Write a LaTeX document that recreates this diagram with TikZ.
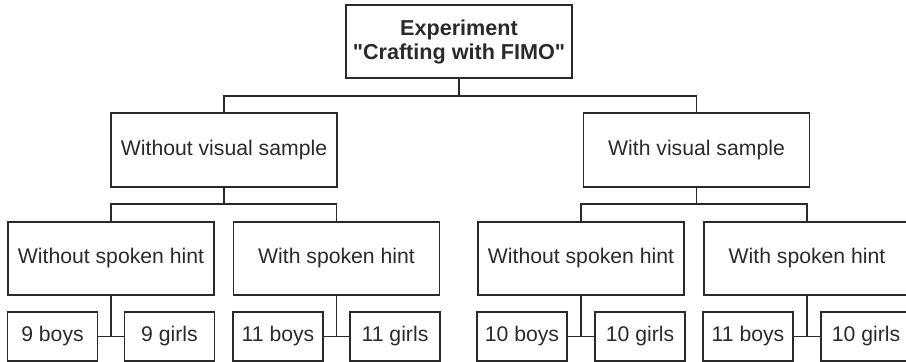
\documentclass[tikz,border=0pt]{standalone}
\usepackage{fontspec}
\setmainfont{Liberation Sans}
\definecolor{ink}{HTML}{2A2A2A}
\tikzset{
  box/.style={draw=ink, line width=0.8pt, text=ink, align=center,
    inner sep=0pt, font=\fontsize{10.6}{12}\selectfont},
  wire/.style={draw=ink, line width=0.8pt}
}

\begin{document}
\begin{tikzpicture}[x=0.5pt, y=-0.5pt]
  \clip (0, 0) rectangle (906, 362);
  % root and first split
  \node[box, minimum width=113pt, minimum height=36.5pt, font=\fontsize{10.8}{12}\selectfont\bfseries]
    (exp) at (459, 41.5) {Experiment\\\textquotedbl Crafting with FIMO\textquotedbl};
  \node[box, minimum width=113pt, minimum height=37pt] (novis) at (224, 150) {Without visual sample};
  \node[box, minimum width=113pt, minimum height=37pt] (vis) at (696.5, 150) {With visual sample};
  \coordinate (j0) at (459, 96);
  \draw[wire] (exp.south) -- (j0);
  \draw[wire] (novis.north) |- (j0) -| (vis.north);

  % second split
  \foreach \name/\x/\txt in {nvnh/111/Without spoken hint, nvh/336.5/With spoken hint,
                             vnh/581/Without spoken hint, vh/807/With spoken hint}
    \node[box, minimum width=103pt, minimum height=36.5pt] (\name) at (\x, 258.5) {\txt};
  \coordinate (j1) at (224, 204);
  \coordinate (j2) at (696.5, 204);
  \draw[wire] (novis.south) -- (j1);
  \draw[wire] (nvnh.north) |- (j1) -| (nvh.north);
  \draw[wire] (vis.south) -- (j2);
  \draw[wire] (vnh.north) |- (j2) -| (vh.north);

  % boys and girls
  \foreach \grp/\bx/\b/\gx/\g in {nvnh/52.5/9/169.5/9, nvh/278/11/395/11,
                                  vnh/522/10/640/10, vh/748/11/866/10} {
    \node[box, minimum width=45pt, minimum height=24.5pt] (\grp-b) at (\bx, 336.5) {\b\ boys};
    \node[box, minimum width=45pt, minimum height=24.5pt] (\grp-g) at (\gx, 336.5) {\g\ girls};
    \draw[wire] (\grp-b.east) -- (\grp-g.west);
    \draw[wire] (\grp.south) -- (\grp.south |- \grp-b.east);
  }
\end{tikzpicture}
\end{document}
